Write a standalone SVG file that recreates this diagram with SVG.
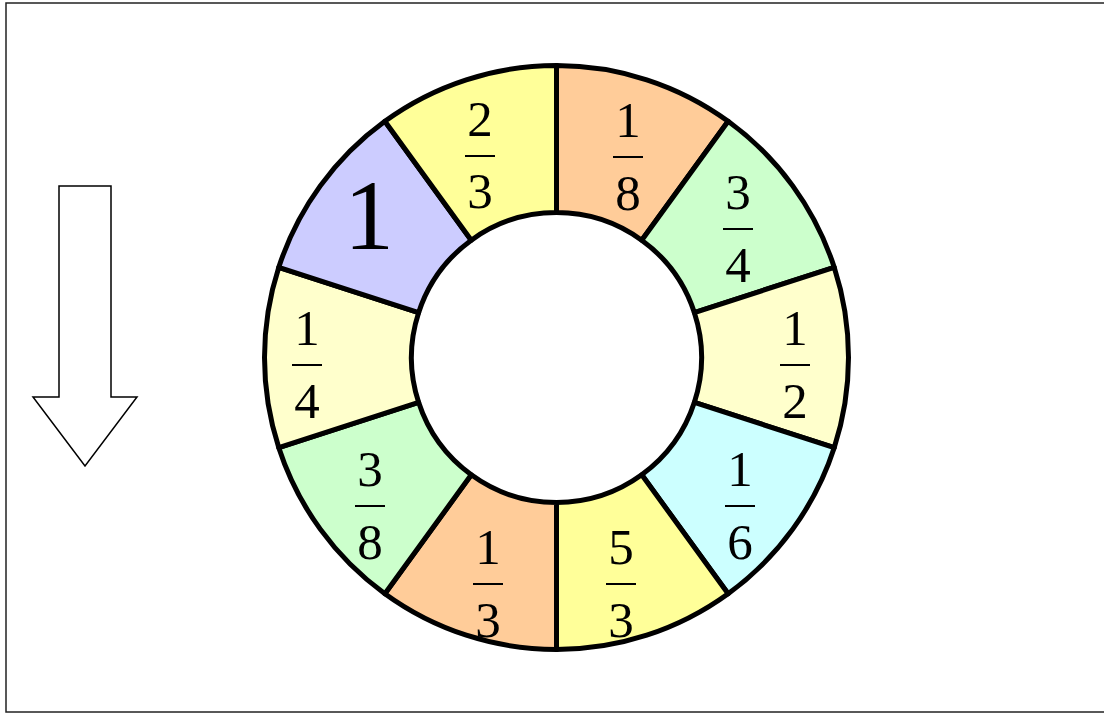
<svg xmlns="http://www.w3.org/2000/svg" width="1104" height="713" viewBox="0 0 1104 713">
<style>
.seg{stroke:#000;stroke-width:5;stroke-linejoin:round}
.num{font-family:"Liberation Serif","Times New Roman",serif;font-size:51px;text-anchor:middle;fill:#000}
.bar{fill:#000}
.o{fill:#FFCC99}.g{fill:#CCFFCC}.ly{fill:#FFFFCC}.c{fill:#CCFFFF}.y{fill:#FFFF99}.p{fill:#CCCCFF}
</style>
<rect x="6" y="3" width="1110" height="709" fill="#fff" stroke="#222" stroke-width="1.5"/>
<g id="arrow">
<polygon points="59,186 111,186 111,397 137,397 85,466 33,397 59,397" fill="#fff" stroke="#000" stroke-width="1.5"/>
</g>
<g id="ring">
<g id="s18"><path class="seg o" d="M556.5,65.5 A292,292 0 0 1 728.13,121.27 L641.73,240.19 A145,145 0 0 0 556.5,212.5 Z"/>
<text class="num" x="628" y="137">1</text><rect class="bar" x="613" y="156" width="30" height="2"/><text class="num" x="628" y="210">8</text></g>
<g id="s34"><path class="seg g" d="M728.13,121.27 A292,292 0 0 1 834.21,267.27 L694.40,312.69 A145,145 0 0 0 641.73,240.19 Z"/>
<text class="num" x="738" y="209">3</text><rect class="bar" x="723" y="228" width="30" height="2"/><text class="num" x="738" y="282">4</text></g>
<g id="s12"><path class="seg ly" d="M834.21,267.27 A292,292 0 0 1 834.21,447.73 L694.40,402.31 A145,145 0 0 0 694.40,312.69 Z"/>
<text class="num" x="795" y="345">1</text><rect class="bar" x="780" y="364" width="30" height="2"/><text class="num" x="795" y="418">2</text></g>
<g id="s16"><path class="seg c" d="M834.21,447.73 A292,292 0 0 1 728.13,593.73 L641.73,474.81 A145,145 0 0 0 694.40,402.31 Z"/>
<text class="num" x="740" y="486">1</text><rect class="bar" x="725" y="505" width="30" height="2"/><text class="num" x="740" y="559">6</text></g>
<g id="s53"><path class="seg y" d="M728.13,593.73 A292,292 0 0 1 556.5,649.5 L556.5,502.5 A145,145 0 0 0 641.73,474.81 Z"/>
<text class="num" x="621" y="564">5</text><rect class="bar" x="606" y="583" width="30" height="2"/><text class="num" x="621" y="637">3</text></g>
<g id="s13"><path class="seg o" d="M556.5,649.5 A292,292 0 0 1 384.87,593.73 L471.27,474.81 A145,145 0 0 0 556.5,502.5 Z"/>
<text class="num" x="488" y="564">1</text><rect class="bar" x="473" y="583" width="30" height="2"/><text class="num" x="488" y="637">3</text></g>
<g id="s38"><path class="seg g" d="M384.87,593.73 A292,292 0 0 1 278.79,447.73 L418.60,402.31 A145,145 0 0 0 471.27,474.81 Z"/>
<text class="num" x="370" y="486">3</text><rect class="bar" x="355" y="505" width="30" height="2"/><text class="num" x="370" y="559">8</text></g>
<g id="s14"><path class="seg ly" d="M278.79,447.73 A292,292 0 0 1 278.79,267.27 L418.60,312.69 A145,145 0 0 0 418.60,402.31 Z"/>
<text class="num" x="307" y="345">1</text><rect class="bar" x="292" y="364" width="30" height="2"/><text class="num" x="307" y="418">4</text></g>
<g id="s1"><path class="seg p" d="M278.79,267.27 A292,292 0 0 1 384.87,121.27 L471.27,240.19 A145,145 0 0 0 418.60,312.69 Z"/>
<text class="num" x="369" y="249" style="font-size:100px">1</text></g>
<g id="s23"><path class="seg y" d="M384.87,121.27 A292,292 0 0 1 556.5,65.5 L556.5,212.5 A145,145 0 0 0 471.27,240.19 Z"/>
<text class="num" x="480" y="136">2</text><rect class="bar" x="465" y="155" width="30" height="2"/><text class="num" x="480" y="208">3</text></g>
</g>
</svg>
